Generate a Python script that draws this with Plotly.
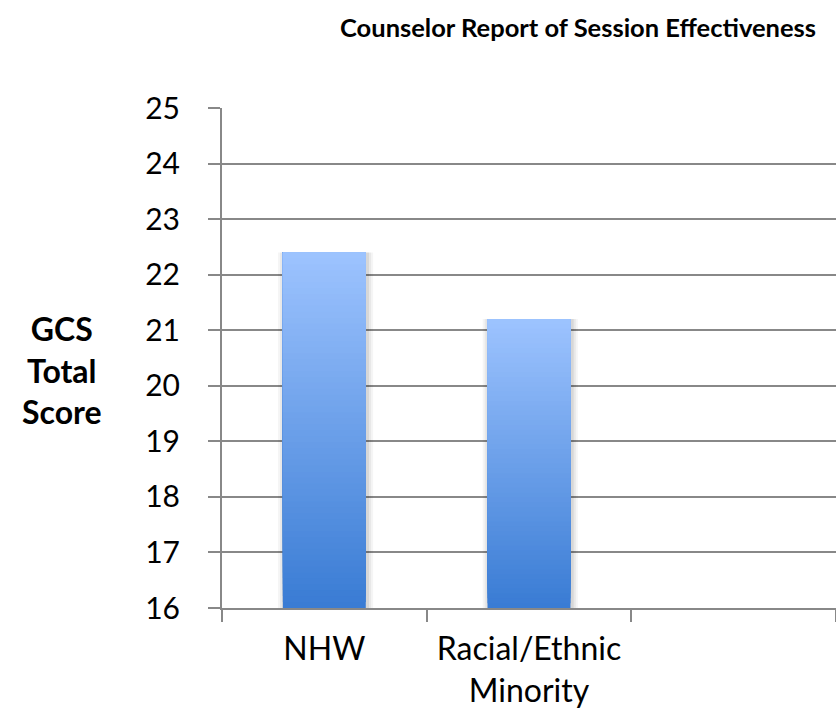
import numpy as np
import plotly.graph_objects as go

# Mean GCS total score by client group
groups = ["NHW", "Racial/Ethnic<br>Minority"]
scores = [22.4, 21.2]
slots = groups + [" "]          # third, empty category slot on the axis
y_ticks = [16, 17, 18, 19, 20, 21, 22, 23, 24, 25]

Y_MIN, Y_MAX = 16, 25
BAR_W = 0.405
TOP_RGB = np.array([158, 196, 255])
BOT_RGB = np.array([58, 124, 212])
N_STEPS = 60

fig = go.Figure()

scores_arr = np.array(scores, dtype=float)
heights = scores_arr - Y_MIN

# soft drop shadow behind each bar
for k, (pad, alpha) in enumerate([(0.030, 0.04), (0.020, 0.05), (0.010, 0.07)]):
    fig.add_trace(go.Bar(
        x=groups, y=heights + 0.03 * (3 - k), base=Y_MIN - 0.03 * (3 - k),
        width=BAR_W + 2 * pad, offset=-(BAR_W / 2) - pad + 0.006,
        marker=dict(color=f"rgba(0,0,0,{alpha})", line=dict(width=0)),
        hoverinfo="skip", showlegend=False,
    ))

# vertical gradient: each layer runs from its level up to the bar top,
# darker layers first so lighter ones paint over the upper part
for i in range(N_STEPS):
    frac = i / N_STEPS
    rgb = BOT_RGB + (TOP_RGB - BOT_RGB) * frac
    base = Y_MIN + heights * frac
    fig.add_trace(go.Bar(
        x=groups, y=scores_arr - base, base=base,
        width=BAR_W, offset=-BAR_W / 2,
        marker=dict(color="rgb(%d,%d,%d)" % tuple(rgb.round().astype(int)),
                    line=dict(width=0)),
        hoverinfo="skip", showlegend=False,
    ))

font_family = "Lato, 'Open Sans', sans-serif"

fig.update_layout(
    width=836, height=720,
    margin=dict(l=222, r=0, t=108, b=112),
    paper_bgcolor="white", plot_bgcolor="white",
    barmode="overlay",
    showlegend=False,
    font=dict(family=font_family, color="black"),
    xaxis=dict(
        type="category", categoryorder="array", categoryarray=slots,
        range=[-0.5, 2.5],
        showgrid=False, showline=True, linecolor="#888888", linewidth=2,
        ticks="outside", tickson="boundaries", ticklen=12, tickwidth=2,
        tickcolor="#888888", tickfont=dict(size=32),
        ticklabelstandoff=12,
    ),
    yaxis=dict(
        range=[Y_MIN, Y_MAX], tickvals=y_ticks,
        showgrid=True, gridcolor="#888888", gridwidth=1.5,
        showline=True, linecolor="#888888", linewidth=2,
        ticks="outside", ticklen=12, tickwidth=2, tickcolor="#888888",
        tickfont=dict(size=30), ticklabelstandoff=22,
        zeroline=False,
    ),
    annotations=[
        dict(text="<b>Counselor Report of Session Effectiveness</b>",
             xref="paper", yref="paper", x=0.58, y=1.162,
             xanchor="center", yanchor="middle", showarrow=False,
             font=dict(size=25.5, family=font_family)),
        dict(text="<b>GCS<br>Total<br>Score</b>",
             xref="paper", yref="paper", x=-0.2606, y=0.476,
             xanchor="center", yanchor="middle", showarrow=False,
             font=dict(size=32, family=font_family)),
    ],
)

fig.write_html("out.html")
